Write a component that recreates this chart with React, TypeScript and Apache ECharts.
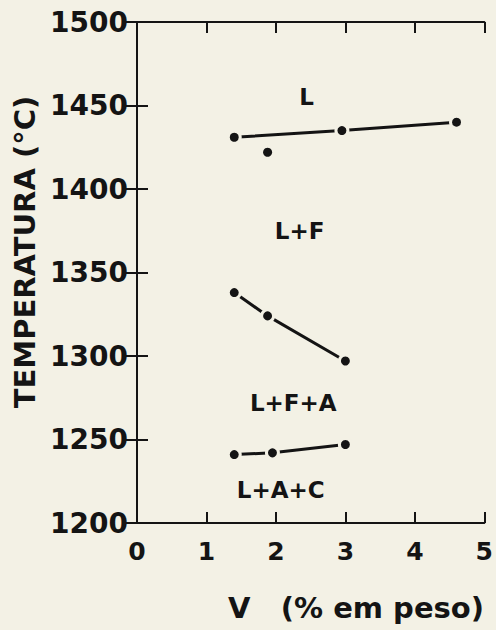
import React, { useEffect, useRef } from 'react';
import * as echarts from 'echarts';

// ---- data ----
const xMin = 0;
const xMax = 5;
const xStep = 1;
const yMin = 1200;
const yMax = 1500;
const yStep = 50;

// liquidus line (L / L+F)
const liqX = [1.4, 2.95, 4.6];
const liqY = [1431, 1435, 1440];
// isolated point below liquidus
const liqLoneX = [1.88];
const liqLoneY = [1422];
// L+F / L+F+A boundary
const lfaX = [1.4, 1.88, 3.0];
const lfaY = [1338, 1324, 1297];
// L+F+A / L+A+C boundary
const lacX = [1.4, 1.95, 3.0];
const lacY = [1241, 1242, 1247];

// phase field labels
const regionNames = ['L', 'L+F', 'L+F+A', 'L+A+C'];
const regionX = [2.44, 2.34, 2.25, 2.07];
const regionY = [1455, 1375, 1272, 1220];

const xTitle = 'V   (% em peso)';
const yTitle = 'TEMPERATURA (°C)';

const BG = '#f3f1e5';
const INK = '#141414';

const pairs = (xs: number[], ys: number[]) => xs.map((x, i) => [x, ys[i]]);

export default function App() {
  const ref = useRef<HTMLDivElement>(null);

  useEffect(() => {
    if (!ref.current) return;
    const chart = echarts.init(ref.current, null, { renderer: 'svg' });

    const baseAxisLine = { show: true, lineStyle: { color: INK, width: 2 } };
    const baseTick = { show: true, inside: true, length: 11, lineStyle: { color: INK, width: 2 } };

    const lineSeries = (xs: number[], ys: number[]) => ({
      type: 'line',
      data: pairs(xs, ys),
      xAxisIndex: 0,
      yAxisIndex: 0,
      symbol: 'circle',
      symbolSize: 12,
      showSymbol: true,
      lineStyle: { color: INK, width: 3 },
      itemStyle: { color: INK, borderColor: BG, borderWidth: 3, opacity: 1 },
      z: 3,
    });

    const option: any = {
      animation: false,
      backgroundColor: BG,
      grid: { left: 137, right: 8, top: 22, bottom: 107, containLabel: false },
      xAxis: [
        {
          type: 'value',
          position: 'bottom',
          min: xMin,
          max: xMax,
          interval: xStep,
          axisLine: baseAxisLine,
          axisTick: baseTick,
          splitLine: { show: false },
          axisLabel: {
            show: true,
            margin: 16,
            fontSize: 25,
            lineHeight: 25,
            fontWeight: 'bold',
            fontFamily: 'DejaVu Sans',
            color: INK,
            showMinLabel: true,
            showMaxLabel: true,
            formatter: (v: number) => String(v),
          },
        },
        {
          type: 'value',
          position: 'top',
          min: xMin,
          max: xMax,
          interval: xStep,
          axisLine: baseAxisLine,
          axisTick: baseTick,
          splitLine: { show: false },
          axisLabel: { show: false },
        },
      ],
      yAxis: [
        {
          type: 'value',
          position: 'left',
          min: yMin,
          max: yMax,
          interval: yStep,
          axisLine: baseAxisLine,
          axisTick: baseTick,
          splitLine: { show: false },
          axisLabel: {
            show: true,
            margin: 9,
            fontSize: 28,
            fontWeight: 'bold',
            fontFamily: 'DejaVu Sans',
            color: INK,
            showMinLabel: true,
            showMaxLabel: true,
            formatter: (v: number) => String(v),
          },
        },
        {
          type: 'value',
          position: 'right',
          min: yMin,
          max: yMax,
          interval: yStep,
          axisLine: baseAxisLine,
          axisTick: baseTick,
          splitLine: { show: false },
          axisLabel: { show: false },
        },
      ],
      series: [
        lineSeries(liqX, liqY),
        lineSeries(lfaX, lfaY),
        lineSeries(lacX, lacY),
        {
          type: 'scatter',
          data: pairs(liqLoneX, liqLoneY),
          xAxisIndex: 0,
          yAxisIndex: 0,
          symbol: 'circle',
          symbolSize: 9,
          itemStyle: { color: INK, opacity: 1 },
          z: 3,
        },
        {
          type: 'scatter',
          xAxisIndex: 0,
          yAxisIndex: 0,
          symbolSize: 1,
          itemStyle: { color: 'rgba(0,0,0,0)', opacity: 1 },
          data: regionNames.map((n, i) => ({ name: n, value: [regionX[i], regionY[i]] })),
          label: {
            show: true,
            position: 'inside',
            formatter: (p: any) => p.name,
            fontSize: 23,
            fontWeight: 'bold',
            fontFamily: 'DejaVu Sans',
            color: INK,
            opacity: 1,
          },
          z: 4,
        },
      ],
      graphic: [
        {
          type: 'text',
          x: 228,
          y: 608,
          style: {
            text: xTitle,
            fill: INK,
            font: 'bold 29px "DejaVu Sans"',
            textAlign: 'left',
            textVerticalAlign: 'middle',
          },
        },
        {
          type: 'text',
          x: 25,
          y: 252,
          rotation: Math.PI / 2,
          style: {
            text: yTitle,
            fill: INK,
            font: 'bold 29px "DejaVu Sans"',
            textAlign: 'center',
            textVerticalAlign: 'middle',
          },
        },
      ],
    };

    chart.setOption(option);
    return () => chart.dispose();
  }, []);

  return (
    <div
      ref={ref}
      style={{ position: 'fixed', left: 0, top: 0, width: 496, height: 630, background: BG }}
    />
  );
}
